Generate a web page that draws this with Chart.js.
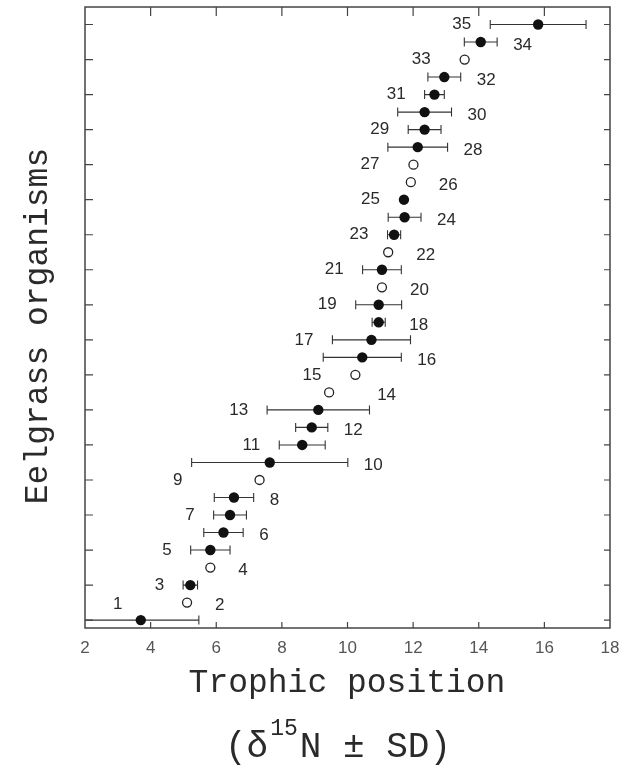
<!DOCTYPE html>
<html>
<head>
<meta charset="utf-8">
<script src="https://cdn.jsdelivr.net/npm/chart.js@4.4.1/dist/chart.umd.min.js"></script>
<style>
  html, body { margin: 0; padding: 0; background: #ffffff; }
  #wrap { width: 620px; height: 768px; }
</style>
</head>
<body>
<div id="wrap"><canvas id="c" width="620" height="768"></canvas></div>
<script>
// ---- Data ----
const organisms = [1,2,3,4,5,6,7,8,9,10,11,12,13,14,15,16,17,18,19,20,21,22,23,24,25,26,27,28,29,30,31,32,33,34,35];
const trophicMean = [3.70, 5.11, 5.21, 5.82, 5.82, 6.22, 6.42, 6.54, 7.32, 7.63,
                     8.62, 8.91, 9.11, 9.44, 10.24, 10.45, 10.73, 10.95, 10.95, 11.05,
                     11.05, 11.24, 11.42, 11.74, 11.72, 11.93, 12.01, 12.14, 12.35, 12.35,
                     12.65, 12.95, 13.57, 14.06, 15.81];
const trophicSD = [1.77, null, 0.22, null, 0.60, 0.60, 0.50, 0.60, null, 2.38,
                   0.70, 0.49, 1.56, null, null, 1.19, 1.19, 0.20, 0.70, null,
                   0.59, null, 0.20, 0.50, 0, null, null, 0.91, 0.50, 0.82,
                   0.30, 0.50, null, 0.50, 1.46];
// marker type: 'filled' (replicated samples with SD) or 'open' (single value)
const markerType = ['filled','open','filled','open','filled','filled','filled','filled','open','filled',
                    'filled','filled','filled','open','open','filled','filled','filled','filled','open',
                    'filled','open','filled','filled','filled','open','open','filled','filled','filled',
                    'filled','filled','open','filled','filled'];
const xTicks = [2,4,6,8,10,12,14,16,18];
const xTitle = 'Trophic position';
const yTitle = 'Eelgrass organisms';

// ---- label layout nudges (pixels), kept apart from the data ----
const labelNudge = { 9: {dx: -43, dy: 0}, 14: {dx: 20, dy: 0}, 18: {dx: 8, dy: 0} };

const INK = '#2a2a2a';
const MONO = '"Liberation Mono", "DejaVu Sans Mono", monospace';
const SANS = '"Liberation Sans", Arial, sans-serif';

const filledPts = [], openPts = [];
organisms.forEach((n, i) => {
  const p = {x: trophicMean[i], y: n};
  (markerType[i] === 'filled' ? filledPts : openPts).push(p);
});

const errorBars = {
  id: 'errorBars',
  beforeDatasetsDraw(chart) {
    const {ctx, chartArea: a, scales: {x, y}} = chart;
    ctx.save();
    ctx.beginPath();
    ctx.rect(a.left, a.top, a.right - a.left, a.bottom - a.top);
    ctx.clip();
    ctx.strokeStyle = '#333333';
    ctx.lineWidth = 1.1;
    organisms.forEach((n, i) => {
      const sd = trophicSD[i];
      if (sd === null || sd <= 0) return;
      const yp = y.getPixelForValue(n);
      const x1 = x.getPixelForValue(trophicMean[i] - sd);
      const x2 = x.getPixelForValue(trophicMean[i] + sd);
      ctx.beginPath();
      ctx.moveTo(x1, yp); ctx.lineTo(x2, yp);
      ctx.moveTo(x1, yp - 4.5); ctx.lineTo(x1, yp + 4.5);
      ctx.moveTo(x2, yp - 4.5); ctx.lineTo(x2, yp + 4.5);
      ctx.stroke();
    });
    ctx.restore();
  }
};

const decorations = {
  id: 'decorations',
  afterDraw(chart) {
    const {ctx, chartArea: a, scales: {x, y}} = chart;
    ctx.save();
    // frame
    ctx.strokeStyle = '#444444';
    ctx.lineWidth = 1.5;
    ctx.strokeRect(a.left, a.top, a.right - a.left, a.bottom - a.top);
    // inward ticks
    ctx.lineWidth = 1.2;
    ctx.beginPath();
    xTicks.forEach(v => {
      if (v <= x.min || v >= x.max) return;
      const px = x.getPixelForValue(v);
      ctx.moveTo(px, a.bottom); ctx.lineTo(px, a.bottom - 6);
      ctx.moveTo(px, a.top); ctx.lineTo(px, a.top + 9);
    });
    organisms.forEach(n => {
      if (n % 2 === 0) return;
      const py = y.getPixelForValue(n);
      ctx.moveTo(a.left, py); ctx.lineTo(a.left + 8, py);
      ctx.moveTo(a.right, py); ctx.lineTo(a.right - 6, py);
    });
    ctx.stroke();

    // organism number labels
    ctx.fillStyle = INK;
    ctx.font = '17px ' + SANS;
    ctx.textBaseline = 'middle';
    organisms.forEach((n, i) => {
      const m = trophicMean[i], sd = trophicSD[i];
      const hasBar = sd !== null && sd > 0;
      const py = y.getPixelForValue(n);
      const nudge = labelNudge[n] || {dx: 0, dy: 0};
      let lx, ly, align;
      if (n === 1) {
        align = 'center';
        lx = x.getPixelForValue(m) - 23;
        ly = py - 16;
      } else if (n % 2 === 1) {
        align = 'right';
        lx = hasBar ? x.getPixelForValue(m - sd) - 19
                    : x.getPixelForValue(m) - 5 - (markerType[i] === 'open' ? 29 : 19);
        ly = py;
      } else {
        align = 'left';
        lx = hasBar ? x.getPixelForValue(m + sd) + 16
                    : x.getPixelForValue(m) + 5 + 23;
        ly = py + 3;
      }
      ctx.textAlign = align;
      ctx.fillText(String(n), lx + nudge.dx, ly + nudge.dy);
    });

    // axis titles
    ctx.fillStyle = INK;
    ctx.font = '33px ' + MONO;
    ctx.textAlign = 'center';
    ctx.textBaseline = 'middle';
    ctx.fillText(xTitle, 347, 683);

    ctx.save();
    ctx.translate(38, 326);
    ctx.rotate(-Math.PI / 2);
    ctx.fillText(yTitle, 0, 0);
    ctx.restore();

    // second x-title line with superscript: (δ15N ± SD)
    const partA = '(\u03B4', sup = '15', partB = 'N \u00B1 SD)';
    ctx.font = '36px ' + MONO;
    const wA = ctx.measureText(partA).width;
    const wB = ctx.measureText(partB).width;
    ctx.font = '23px ' + MONO;
    const wS = ctx.measureText(sup).width;
    const total = wA + wS + wB + 4;
    let cx = 338 - total / 2;
    ctx.textAlign = 'left';
    ctx.font = '36px ' + MONO;
    ctx.fillText(partA, cx, 747);
    cx += wA + 2;
    ctx.font = '23px ' + MONO;
    ctx.fillText(sup, cx, 729);
    cx += wS + 2;
    ctx.font = '36px ' + MONO;
    ctx.fillText(partB, cx, 747);
    ctx.restore();
  }
};

new Chart(document.getElementById('c'), {
  type: 'scatter',
  data: {
    datasets: [
      { label: 'filled', data: filledPts, pointStyle: 'circle', pointRadius: 5.2,
        backgroundColor: '#111111', borderColor: '#111111', borderWidth: 0, pointHoverRadius: 5.2 },
      { label: 'open', data: openPts, pointStyle: 'circle', pointRadius: 4.5,
        backgroundColor: '#ffffff', borderColor: '#222222', borderWidth: 1.3, pointHoverRadius: 4.5 }
    ]
  },
  options: {
    responsive: false,
    animation: false,
    devicePixelRatio: 1,
    layout: { padding: { top: 7, right: 10, left: 0, bottom: 0 } },
    plugins: { legend: { display: false }, tooltip: { enabled: false } },
    scales: {
      x: {
        type: 'linear', min: 2, max: 18,
        afterFit: s => { s.height = 140; s.paddingLeft = 0; s.paddingRight = 0; },
        afterBuildTicks: s => { s.ticks = xTicks.map(v => ({value: v})); },
        grid: { display: false, drawTicks: false },
        border: { display: false },
        ticks: { color: '#555555', font: { family: SANS, size: 17 }, padding: 10, maxRotation: 0, autoSkip: false }
      },
      y: {
        type: 'linear', min: 0.55, max: 36,
        afterFit: s => { s.width = 85; s.paddingTop = 0; s.paddingBottom = 0; },
        grid: { display: false, drawTicks: false },
        border: { display: false },
        ticks: { display: false }
      }
    }
  },
  plugins: [errorBars, decorations]
});
</script>
</body>
</html>
